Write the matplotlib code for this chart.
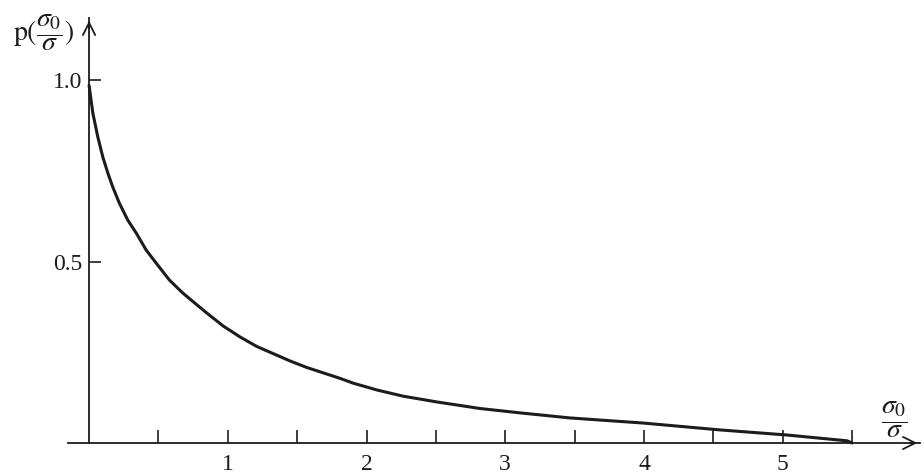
import matplotlib
matplotlib.use("Agg")
import matplotlib.pyplot as plt

# curve
ratio = [0.0, 0.027, 0.063, 0.099, 0.135, 0.171, 0.218, 0.279, 0.339, 0.411,
         0.483, 0.579, 0.676, 0.748, 0.849, 0.968, 1.089, 1.209, 1.329, 1.449,
         1.570, 1.690, 1.810, 1.903, 2.076, 2.264, 2.509, 2.819, 3.107, 3.468,
         3.994, 4.549, 5.032, 5.465, 5.50]
prob = [0.985, 0.909, 0.843, 0.788, 0.744, 0.705, 0.661, 0.614, 0.579, 0.532,
        0.496, 0.449, 0.413, 0.390, 0.358, 0.322, 0.292, 0.266, 0.246, 0.226,
        0.208, 0.193, 0.178, 0.165, 0.146, 0.129, 0.113, 0.095, 0.083, 0.069,
        0.055, 0.036, 0.022, 0.006, 0.0]

x_ticks = [0.5, 1, 1.5, 2, 2.5, 3, 3.5, 4, 4.5, 5, 5.5]
x_labels = ["", "1", "", "2", "", "3", "", "4", "", "5", ""]
y_ticks = [0.5, 1.0]
y_labels = ["0.5", "1.0"]

plt.rcParams["font.family"] = "Liberation Serif"
plt.rcParams["mathtext.fontset"] = "stix"

ink = "#1c1c1c"
fig = plt.figure(figsize=(9.24, 4.76), dpi=100)
ax = fig.add_axes([68 / 924, 33 / 476, 852 / 924, 425 / 476])

ax.plot(ratio, prob, color=ink, lw=2.2, solid_capstyle="round",
        solid_joinstyle="round", clip_on=False)

ax.set_xlim(-0.152, 5.99)
ax.set_ylim(0, 1.171)

for s in ["top", "right"]:
    ax.spines[s].set_visible(False)
ax.spines["left"].set_position(("data", 0))
for s in ["left", "bottom"]:
    ax.spines[s].set_color(ink)
    ax.spines[s].set_linewidth(1.3)

ax.set_xticks(x_ticks)
ax.set_xticklabels(x_labels)
ax.set_yticks(y_ticks)
ax.set_yticklabels(y_labels)
ax.tick_params(axis="x", direction="in", length=9.5, width=1.2, color=ink,
               pad=8, labelsize=17, labelcolor=ink)
ax.tick_params(axis="y", direction="in", length=8.5, width=1.2, color=ink,
               pad=5, labelsize=17, labelcolor=ink)

# arrow heads on the axes
ax.annotate("", xy=(1.0, 0), xycoords=("axes fraction", "data"),
            xytext=(0.985, 0), textcoords=("axes fraction", "data"),
            arrowprops=dict(arrowstyle="->", color=ink, lw=1.3,
                            mutation_scale=22), annotation_clip=False)
ax.annotate("", xy=(0, 1.0), xycoords=("data", "axes fraction"),
            xytext=(0, 0.97), textcoords=("data", "axes fraction"),
            arrowprops=dict(arrowstyle="->", color=ink, lw=1.3,
                            mutation_scale=22), annotation_clip=False)

fig.text(44 / 924, 1 - 33 / 476, r"$\mathrm{p}(\dfrac{\sigma_0}{\sigma})$",
         fontsize=20, color=ink, ha="center", va="center")
fig.text(894 / 924, 1 - 420 / 476, r"$\dfrac{\sigma_0}{\sigma}$",
         fontsize=20, color=ink, ha="center", va="center")

fig.savefig("out.png", dpi=100, facecolor="white")
